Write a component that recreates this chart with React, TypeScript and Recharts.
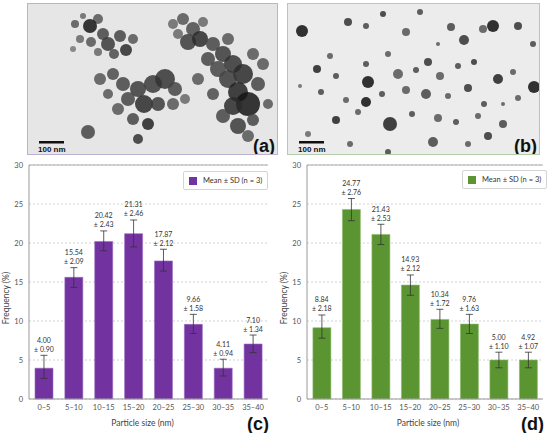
import {
  ComposedChart,
  Bar,
  Line,
  XAxis,
  YAxis,
  CartesianGrid,
  ErrorBar,
  LabelList,
  Legend,
  ReferenceLine,
  Label,
} from "recharts";

// categories + axis
const sizes = ["0–5", "5–10", "10–15", "15–20", "20–25", "25–30", "30–35", "35–40"];
const yTicks = [0, 5, 10, 15, 20, 25, 30];

// (c) purple histogram – bar heights / error extents
const meanC = [3.95, 15.6, 20.2, 21.2, 17.7, 9.57, 3.95, 7.05];
const errLoC = [1.3, 1.3, 1.2, 1.7, 1.3, 1.17, 1.0, 1.1];
const errHiC = [1.65, 1.24, 1.35, 1.75, 1.5, 1.28, 1.15, 1.15];
const meanTextC = ["4.00", "15.54", "20.42", "21.31", "17.87", "9.66", "4.11", "7.10"];
const sdTextC = ["0.90", "2.09", "2.43", "2.46", "2.12", "1.58", "0.94", "1.34"];

// (d) green histogram
const meanD = [9.14, 24.3, 21.1, 14.6, 10.2, 9.6, 5.0, 5.0];
const errLoD = [1.34, 1.44, 1.3, 1.3, 1.14, 1.2, 1.0, 1.0];
const errHiD = [1.63, 1.4, 1.3, 1.3, 1.3, 1.25, 1.0, 1.0];
const meanTextD = ["8.84", "24.77", "21.43", "14.93", "10.34", "9.76", "5.00", "4.92"];
const sdTextD = ["2.18", "2.76", "2.53", "2.12", "1.72", "1.63", "1.10", "1.07"];

// TEM placeholders: [cx, cy, r, shade]
const blobsA: [number, number, number, string][] = [
  [47, 20, 4, "#555"], [55, 12, 3, "#666"], [70, 15, 5, "#555"], [62, 22, 7, "#151515"],
  [75, 30, 6, "#444"], [63, 38, 5, "#555"], [80, 40, 7, "#3a3a3a"], [92, 32, 6, "#444"],
  [98, 46, 6, "#2a2a2a"], [86, 50, 5, "#4a4a4a"], [52, 35, 4, "#666"], [45, 45, 3, "#777"],
  [70, 48, 4, "#666"], [105, 35, 5, "#555"],
  [145, 20, 5, "#666"], [155, 15, 6, "#555"], [165, 25, 7, "#4a4a4a"], [175, 18, 5, "#666"],
  [160, 38, 8, "#3a3a3a"], [172, 35, 8, "#2a2a2a"], [185, 40, 7, "#444"], [195, 50, 8, "#3a3a3a"],
  [205, 60, 9, "#333"], [215, 70, 10, "#2a2a2a"], [200, 75, 9, "#3a3a3a"], [190, 65, 8, "#444"],
  [210, 88, 10, "#222"], [220, 100, 12, "#151515"], [205, 102, 9, "#2a2a2a"], [230, 80, 7, "#444"],
  [235, 60, 6, "#555"], [225, 50, 6, "#555"], [180, 55, 7, "#444"], [170, 75, 6, "#555"],
  [185, 90, 6, "#4a4a4a"], [195, 112, 7, "#444"], [210, 122, 8, "#3a3a3a"], [225, 116, 6, "#444"],
  [240, 100, 5, "#555"], [220, 132, 6, "#555"], [150, 30, 5, "#666"], [200, 35, 6, "#555"],
  [72, 75, 6, "#555"], [85, 70, 6, "#4a4a4a"], [95, 80, 7, "#444"], [110, 85, 8, "#3a3a3a"],
  [125, 80, 9, "#3a3a3a"], [137, 75, 10, "#333"], [147, 85, 7, "#444"], [100, 95, 7, "#444"],
  [116, 100, 9, "#2a2a2a"], [130, 100, 7, "#3a3a3a"], [145, 100, 6, "#555"], [90, 105, 6, "#555"],
  [105, 115, 6, "#444"], [120, 120, 6, "#222"], [157, 95, 5, "#666"], [80, 90, 5, "#555"],
  [60, 128, 7, "#444"], [110, 135, 5, "#333"],
];

const blobsB: [number, number, number, string][] = [
  [14, 27, 6, "#111"], [60, 18, 4, "#333"], [78, 22, 3, "#444"], [95, 10, 3, "#333"],
  [118, 28, 4, "#555"], [132, 8, 3, "#444"], [163, 23, 4, "#444"], [176, 36, 5, "#333"],
  [195, 25, 4, "#555"], [205, 22, 6, "#111"], [230, 22, 4, "#333"], [150, 40, 2, "#555"],
  [42, 52, 3, "#555"], [29, 65, 4, "#222"], [48, 72, 3, "#444"], [78, 60, 3, "#444"],
  [80, 78, 6, "#111"], [100, 50, 3, "#555"], [110, 70, 5, "#555"], [128, 66, 3, "#444"],
  [140, 58, 4, "#333"], [152, 72, 4, "#555"], [170, 62, 3, "#444"], [186, 58, 3, "#333"],
  [210, 75, 5, "#222"], [225, 68, 3, "#555"], [246, 83, 6, "#111"], [12, 82, 2, "#666"],
  [33, 88, 3, "#444"], [58, 96, 3, "#555"], [78, 98, 5, "#111"], [94, 90, 3, "#444"],
  [118, 86, 4, "#555"], [138, 90, 5, "#444"], [160, 92, 3, "#555"], [180, 84, 4, "#333"],
  [196, 100, 3, "#444"], [230, 94, 3, "#555"], [48, 116, 4, "#222"], [70, 108, 3, "#555"],
  [102, 120, 7, "#222"], [124, 110, 3, "#444"], [150, 114, 4, "#555"], [168, 118, 3, "#444"],
  [190, 112, 3, "#555"], [215, 120, 4, "#444"], [200, 132, 4, "#333"], [145, 138, 5, "#444"],
  [100, 148, 3, "#444"], [20, 130, 3, "#666"], [62, 140, 3, "#555"],
  [180, 140, 3, "#555"], [215, 100, 2, "#555"], [245, 40, 3, "#444"],
];

const font = "Lato, 'Open Sans', sans-serif";
const tickStyle = { fill: "#555", fontSize: 7.5, fontFamily: font };

function build(mean: number[], lo: number[], hi: number[], mt: string[], sd: string[]) {
  return sizes.map((s, i) => ({
    size: s,
    mean: mean[i],
    err: [lo[i], hi[i]],
    top: mean[i] + hi[i],
    label: mt[i],
    sd: sd[i],
  }));
}

const dataC = build(meanC, errLoC, errHiC, meanTextC, sdTextC);
const dataD = build(meanD, errLoD, errHiD, meanTextD, sdTextD);

function TwoLineLabel(props: any) {
  const { x, y, index, rows } = props;
  if (x == null || y == null) return null;
  const r = rows[index];
  return (
    <g>
      <text x={x} y={y - 12.5} textAnchor="middle" fontSize={7} fill="#333" fontFamily={font}>
        {r.label}
      </text>
      <text x={x} y={y - 3.5} textAnchor="middle" fontSize={7} fill="#333" fontFamily={font}>
        {"± " + r.sd}
      </text>
    </g>
  );
}

function Photo({ left, width, border, bg, blobs, tag }: any) {
  return (
    <div
      style={{
        position: "absolute",
        left,
        top: 3,
        width,
        height: 152,
        boxSizing: "border-box",
        border: `1px solid ${border}`,
        background: bg,
        overflow: "hidden",
      }}
    >
      <svg width={width} height={152} style={{ position: "absolute", left: 0, top: 0 }}>
        {blobs.map((b: any, i: number) => (
          <circle key={i} cx={b[0]} cy={b[1]} r={b[2]} fill={b[3]} opacity={0.85} />
        ))}
        <rect x={11} y={137} width={25} height={2.5} fill="#111" />
        <text x={10} y={148} fontSize={8} fontWeight="bold" fill="#111" fontFamily="'Liberation Sans', Arial">
          100 nm
        </text>
        <text
          x={width - 4}
          y={148}
          textAnchor="end"
          fontSize={18}
          fontWeight="bold"
          fill="#111"
          fontFamily="'Liberation Sans', Arial"
        >
          {tag}
        </text>
      </svg>
    </div>
  );
}

function Histogram({
  data,
  color,
  edge,
  axisWidth,
  tag,
  legendLeft,
  legendTop,
  titleDx,
}: {
  data: any[];
  color: string;
  edge: string;
  axisWidth: number;
  tag: string;
  legendLeft: number;
  legendTop: number;
  titleDx: number;
}) {
  return (
    <div style={{ position: "relative", width: 275, height: 273 }}>
      <ComposedChart
        width={275}
        height={273}
        data={data}
        margin={{ top: 5, right: 7, bottom: 0, left: 0 }}
        barCategoryGap="20%"
      >
        <CartesianGrid vertical={false} stroke="#d2d2d2" strokeDasharray="2 2" />
        <XAxis
          dataKey="size"
          height={34}
          interval={0}
          tick={tickStyle}
          tickLine={false}
          tickSize={4}
          tickMargin={2}
          axisLine={{ stroke: "#999" }}
        >
          <Label
            content={(p: any) => {
              const vb = p.viewBox;
              return (
                <text
                  x={vb.x + vb.width / 2 + titleDx}
                  y={vb.y + 27}
                  textAnchor="middle"
                  fontSize={8.5}
                  fill="#444"
                  fontFamily={font}
                >
                  Particle size (nm)
                </text>
              );
            }}
          />
        </XAxis>
        <YAxis
          domain={[0, 30]}
          ticks={yTicks}
          width={axisWidth}
          tick={tickStyle}
          tickLine={false}
          tickSize={4}
          tickMargin={2}
          axisLine={{ stroke: "#999" }}
          interval={0}
        >
          <Label
            content={(p: any) => {
              const vb = p.viewBox;
              const cx = axisWidth - 22;
              const cy = vb.y + vb.height / 2 + 16;
              return (
                <text
                  x={cx}
                  y={cy}
                  transform={`rotate(-90 ${cx} ${cy})`}
                  textAnchor="middle"
                  dominantBaseline="middle"
                  fontSize={8.5}
                  fill="#444"
                  fontFamily={font}
                >
                  Frequency (%)
                </text>
              );
            }}
          />
        </YAxis>
        <YAxis yAxisId="frame" orientation="right" width={0} tick={false} tickLine={false} axisLine={{ stroke: "#aaa" }} />
        <ReferenceLine y={30} stroke="#aaa" />
        <Legend
          layout="horizontal"
          verticalAlign="middle"
          align="center"
          wrapperStyle={{ left: legendLeft, top: legendTop, width: "auto" }}
          content={() => (
            <div
              style={{
                display: "flex",
                alignItems: "center",
                border: "1px solid #d4d4d4",
                borderRadius: 2,
                background: "#fff",
                padding: "4px 5px 4px 5px",
                fontFamily: font,
                fontSize: 7.5,
                color: "#333",
                whiteSpace: "nowrap",
              }}
            >
              <span style={{ width: 8, height: 8, background: color, marginRight: 6, display: "inline-block" }} />
              Mean ± SD (n = 3)
            </div>
          )}
        />
        <Bar dataKey="mean" fill={color} stroke={edge} strokeWidth={0.6} isAnimationActive={false}>
          <ErrorBar dataKey="err" width={3.5} stroke="#333" strokeWidth={0.8} />
        </Bar>
        <Line
          dataKey="top"
          stroke="none"
          dot={false}
          activeDot={false}
          legendType="none"
          isAnimationActive={false}
        >
          <LabelList dataKey="top" content={(p: any) => <TwoLineLabel {...p} rows={data} />} />
        </Line>
      </ComposedChart>
      <span
        style={{
          position: "absolute",
          right: 6,
          bottom: 0,
          fontFamily: "'Liberation Sans', Arial",
          fontWeight: "bold",
          fontSize: 18,
          color: "#111",
          lineHeight: "18px",
        }}
      >
        {tag}
      </span>
    </div>
  );
}

export default function App() {
  return (
    <div style={{ position: "absolute", left: 0, top: 0, width: 550, height: 433, background: "#fff" }}>
      <Photo left={27} width={251} border="#b9b2d4" bg="#e6e6e6" blobs={blobsA} tag="(a)" />
      <Photo left={287} width={253} border="#b4ccaa" bg="#ececec" blobs={blobsB} tag="(b)" />
      <div style={{ position: "absolute", left: 0, top: 160 }}>
        <Histogram
          data={dataC}
          color="#7233a0"
          edge="#9a6fc0"
          axisWidth={29}
          tag="(c)"
          legendLeft={183}
          legendTop={11}
          titleDx={-6}
        />
      </div>
      <div style={{ position: "absolute", left: 275, top: 160 }}>
        <Histogram
          data={dataD}
          color="#5b9531"
          edge="#8dbb6e"
          axisWidth={32}
          tag="(d)"
          legendLeft={187}
          legendTop={10}
          titleDx={3}
        />
      </div>
    </div>
  );
}
